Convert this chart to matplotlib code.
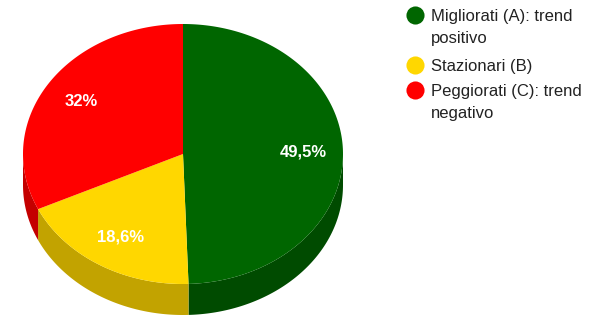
import numpy as np
import matplotlib.pyplot as plt
from matplotlib.patches import Polygon

plt.rcParams['font.family'] = ['Liberation Sans', 'DejaVu Sans']

labels = ['Migliorati (A): trend\npositivo', 'Stazionari (B)', 'Peggiorati (C): trend\nnegativo']
values = [49.5, 18.6, 32.0]
value_text = ['49,5%', '18,6%', '32%']
top_colors = ['#006600', '#ffd700', '#ff0000']
side_colors = ['#004b00', '#c2a300', '#c40000']

# pie geometry in pixels (y grows downwards)
cx, cy = 183, 154
rx, ry = 160, 130
depth = 31


def rim(t, dy=0.0):
    t = np.radians(t)
    return np.column_stack([cx + rx * np.sin(t), cy - ry * np.cos(t) + dy])


fig = plt.figure(figsize=(5.98, 3.21), dpi=100)
ax = fig.add_axes([0, 0, 1, 1])
ax.set_xlim(0, 598)
ax.set_ylim(321, 0)
ax.axis('off')

total = sum(values)
bounds = np.concatenate([[0], np.cumsum(values) / total * 360])

# side wall, only the front half (90..270 deg clockwise from top) shows
for i in range(len(values)):
    s0, s1 = max(bounds[i], 90), min(bounds[i + 1], 270)
    if s1 <= s0:
        continue
    t = np.linspace(s0, s1, 100)
    pts = np.vstack([rim(t), rim(t[::-1], depth)])
    ax.add_patch(Polygon(pts, closed=True, fc=side_colors[i], ec='none'))

# top face
for i in range(len(values)):
    t = np.linspace(bounds[i], bounds[i + 1], 200)
    pts = np.vstack([[cx, cy], rim(t)])
    ax.add_patch(Polygon(pts, closed=True, fc=top_colors[i], ec='none'))
    mid = np.radians((bounds[i] + bounds[i + 1]) / 2)
    f = 0.75
    ax.text(cx + f * rx * np.sin(mid), cy - f * ry * np.cos(mid), value_text[i],
            color='white', fontsize=12, fontweight='bold', ha='center', va='center')

# legend, one text per line so the baselines sit where they should
ly = [15, 65, 90]
for i in range(len(labels)):
    ax.scatter(415, ly[i], s=170, color=top_colors[i], zorder=3, linewidths=0)
    for j, line in enumerate(labels[i].split('\n')):
        ax.text(431, ly[i] + 6 + 22 * j, line, fontsize=12, color='#222222',
                ha='left', va='baseline')

fig.savefig('out.png', dpi=100)
